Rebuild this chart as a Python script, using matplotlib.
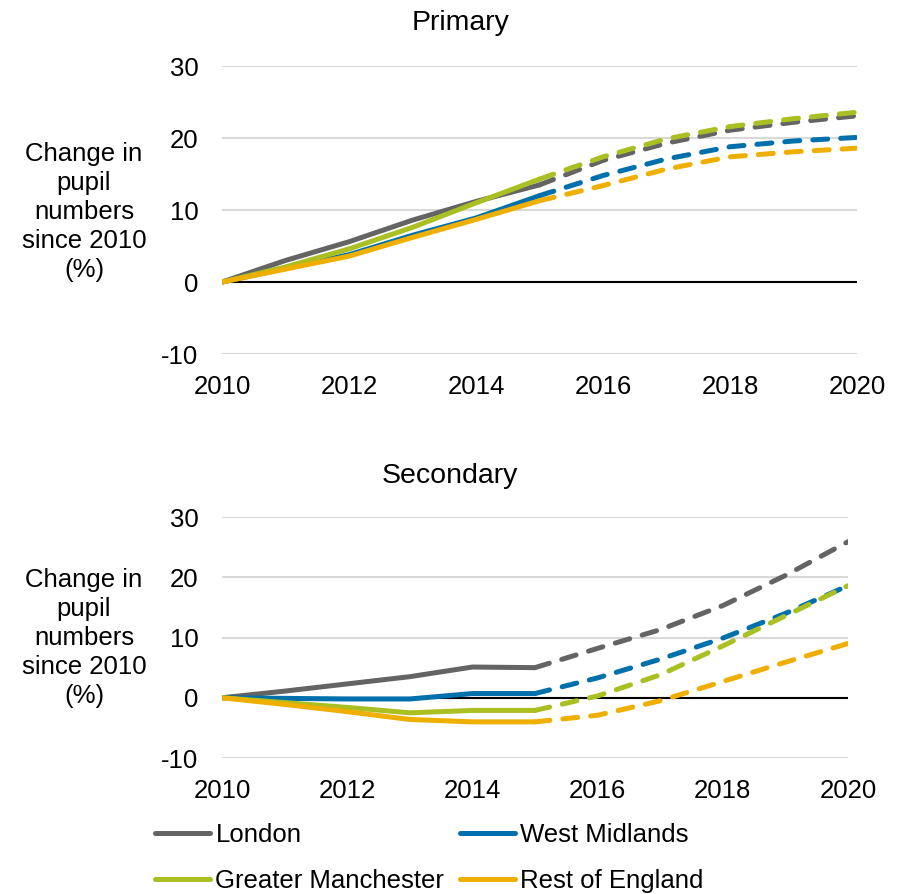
import numpy as np
import matplotlib.pyplot as plt

plt.rcParams['font.family'] = ['Liberation Sans', 'DejaVu Sans']
plt.rcParams['axes.unicode_minus'] = False

years = [2010, 2011, 2012, 2013, 2014, 2015, 2016, 2017, 2018, 2019, 2020]
regions = ['London', 'West Midlands', 'Greater Manchester', 'Rest of England']
colors = ['#646464', '#0070AC', '#A9BF22', '#EEAF00']

# primary, % change since 2010 (2016 onwards are projections)
prim_london = [0, 3.0, 5.6, 8.6, 11.2, 13.5, 16.9, 19.3, 21.1, 22.2, 23.1]
prim_west_mid = [0, 1.9, 3.8, 6.5, 8.9, 12.0, 14.8, 17.1, 18.8, 19.6, 20.1]
prim_gtr_man = [0, 2.1, 4.6, 7.6, 11.0, 14.3, 17.4, 19.9, 21.6, 22.7, 23.6]
prim_rest = [0, 1.8, 3.6, 6.2, 8.7, 11.3, 13.4, 15.7, 17.4, 18.1, 18.6]

# secondary
sec_london = [0, 1.1, 2.3, 3.5, 5.1, 5.0, 8.2, 11.3, 15.3, 20.3, 25.9]
sec_west_mid = [0, -0.1, -0.2, -0.2, 0.7, 0.7, 3.3, 6.4, 9.9, 14.0, 18.6]
sec_gtr_man = [0, -0.8, -1.6, -2.5, -2.1, -2.1, 0.3, 3.8, 8.6, 13.6, 18.6]
sec_rest = [0, -1.1, -2.3, -3.6, -4.0, -4.0, -2.9, -0.5, 2.7, 5.9, 9.0]

primary = [prim_london, prim_west_mid, prim_gtr_man, prim_rest]
secondary = [sec_london, sec_west_mid, sec_gtr_man, sec_rest]

fig = plt.figure(figsize=(9.03, 8.94), dpi=100)
ax1 = fig.add_axes([0.2458, 0.604, 0.7032, 0.322])
ax2 = fig.add_axes([0.2458, 0.1521, 0.6933, 0.2696])

fs = 18.5
ylab = 'Change in\npupil\nnumbers\nsince 2010\n(%)'


def draw(ax, data):
    for d, c, name in zip(data, colors, regions):
        ax.plot(years[:6], d[:6], color=c, lw=3.6, solid_capstyle='round', label=name, zorder=3)
        ax.plot(years[5:], d[5:], color=c, lw=3.6, dashes=(3.0, 2.6),
                dash_capstyle='round', zorder=3)
    ax.set_xlim(2010, 2020)
    ax.set_ylim(-10, 30)
    ax.set_yticks([-10, 0, 10, 20, 30])
    ax.set_xticks([2010, 2012, 2014, 2016, 2018, 2020])
    ax.grid(axis='y', color='#d9d9d9', lw=1.5)
    ax.axhline(0, color='black', lw=1.5, zorder=2)
    for s in ax.spines.values():
        s.set_visible(False)
    ax.tick_params(length=0, labelsize=fs, pad=17)
    ax.tick_params(axis='x', pad=15)


draw(ax1, primary)
draw(ax2, secondary)

fig.text(461 / 903, 1 - 23 / 894, 'Primary', ha='center', va='center', fontsize=20.5)
fig.text(450 / 903, 1 - 476 / 894, 'Secondary', ha='center', va='center', fontsize=20.5)
fig.text(84 / 903, 1 - 212 / 894, ylab, ha='center', va='center', fontsize=fs, linespacing=1.27)
fig.text(84 / 903, 1 - 638 / 894, ylab, ha='center', va='center', fontsize=fs, linespacing=1.27)

handles, labels = ax2.get_legend_handles_labels()
order = [0, 2, 1, 3]
fig.legend([handles[i] for i in order], [labels[i] for i in order],
           loc='upper left', bbox_to_anchor=(155 / 903, 1 - 823 / 894), ncol=2,
           frameon=False, fontsize=fs, handlelength=2.15, handletextpad=0.2,
           columnspacing=0.6, labelspacing=0.85, borderpad=0, borderaxespad=0)

fig.savefig('out.png', dpi=100)
